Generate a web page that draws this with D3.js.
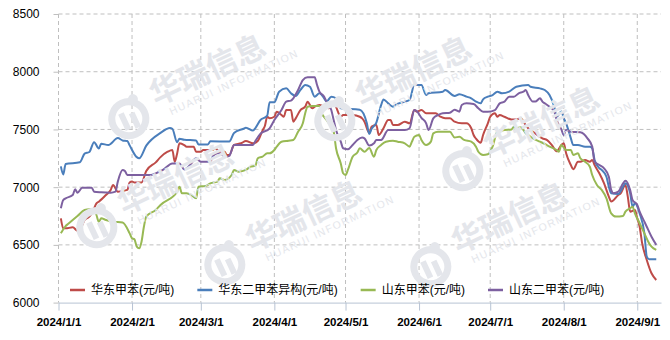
<!DOCTYPE html>
<html>
<head>
<meta charset="utf-8">
<script src="https://cdn.jsdelivr.net/npm/d3@7"></script>
<style>
    body { margin: 0; background: #fff; }
    svg { display: block; font-family: "Liberation Sans", Arial, "Noto Sans CJK SC", sans-serif; }
</style>
</head>
<body>
<div id="chart"></div>
<script>
// series names (legend)
var seriesNames = ["华东甲苯(元/吨)", "华东二甲苯异构(元/吨)", "山东甲苯(元/吨)", "山东二甲苯(元/吨)"];
var yTicks = [6000, 6500, 7000, 7500, 8000, 8500];
var xTickLabels = ["2024/1/1", "2024/2/1", "2024/3/1", "2024/4/1", "2024/5/1", "2024/6/1", "2024/7/1", "2024/8/1", "2024/9/1"];

// 华东甲苯
var eastToluene = [
    ["2024-01-02", 6730], ["2024-01-03", 6643], ["2024-01-04", 6643], ["2024-01-07", 6652], ["2024-01-09", 6623],
    ["2024-01-10", 6623], ["2024-01-11", 6672], ["2024-01-12", 6716], ["2024-01-14", 6745], ["2024-01-15", 6773],
    ["2024-01-16", 6817], ["2024-01-17", 6860], ["2024-01-18", 6874], ["2024-01-21", 6932], ["2024-01-23", 6976],
    ["2024-01-24", 7019], ["2024-01-26", 6961], ["2024-01-30", 6976], ["2024-01-31", 7040], ["2024-02-01", 7050],
    ["2024-02-02", 7040], ["2024-02-05", 7040], ["2024-02-07", 7140], ["2024-02-11", 7215], ["2024-02-13", 7260],
    ["2024-02-16", 7307], ["2024-02-18", 7322], ["2024-02-19", 7220], ["2024-02-20", 7290], ["2024-02-21", 7380],
    ["2024-02-23", 7365], ["2024-02-24", 7350], ["2024-02-27", 7350], ["2024-02-28", 7307], ["2024-03-01", 7307],
    ["2024-03-02", 7322], ["2024-03-06", 7322], ["2024-03-07", 7337], ["2024-03-09", 7307], ["2024-03-11", 7307],
    ["2024-03-12", 7279], ["2024-03-13", 7279], ["2024-03-15", 7365], ["2024-03-18", 7380], ["2024-03-20", 7400],
    ["2024-03-23", 7380], ["2024-03-25", 7400], ["2024-03-26", 7440], ["2024-03-27", 7490], ["2024-03-28", 7530],
    ["2024-03-29", 7610], ["2024-03-30", 7596], ["2024-04-01", 7610], ["2024-04-02", 7654], ["2024-04-04", 7625],
    ["2024-04-05", 7610], ["2024-04-06", 7668], ["2024-04-08", 7668], ["2024-04-09", 7567], ["2024-04-10", 7596],
    ["2024-04-12", 7668], ["2024-04-14", 7697], ["2024-04-15", 7740], ["2024-04-17", 7683], ["2024-04-18", 7697],
    ["2024-04-20", 7712], ["2024-04-22", 7697], ["2024-04-24", 7683], ["2024-04-26", 7740], ["2024-04-27", 7697],
    ["2024-04-29", 7610], ["2024-04-30", 7625], ["2024-05-04", 7625], ["2024-05-07", 7610], ["2024-05-08", 7596],
    ["2024-05-09", 7567], ["2024-05-11", 7470], ["2024-05-12", 7524], ["2024-05-14", 7538], ["2024-05-15", 7452],
    ["2024-05-17", 7510], ["2024-05-19", 7582], ["2024-05-20", 7582], ["2024-05-21", 7538], ["2024-05-23", 7538],
    ["2024-05-26", 7567], ["2024-05-28", 7553], ["2024-05-30", 7668], ["2024-05-31", 7654], ["2024-06-02", 7668],
    ["2024-06-04", 7640], ["2024-06-08", 7640], ["2024-06-10", 7610], ["2024-06-12", 7596], ["2024-06-14", 7596],
    ["2024-06-16", 7567], ["2024-06-19", 7553], ["2024-06-21", 7553], ["2024-06-23", 7510], ["2024-06-24", 7452],
    ["2024-06-25", 7420], ["2024-06-27", 7385], ["2024-06-28", 7452], ["2024-06-30", 7553], ["2024-07-01", 7610],
    ["2024-07-03", 7640], ["2024-07-04", 7610], ["2024-07-05", 7625], ["2024-07-07", 7610], ["2024-07-10", 7587],
    ["2024-07-12", 7587], ["2024-07-14", 7596], ["2024-07-15", 7567], ["2024-07-17", 7510], ["2024-07-18", 7495],
    ["2024-07-20", 7466], ["2024-07-23", 7423], ["2024-07-25", 7408], ["2024-07-27", 7365], ["2024-07-29", 7310],
    ["2024-07-31", 7365], ["2024-08-01", 7380], ["2024-08-02", 7293], ["2024-08-04", 7192], ["2024-08-05", 7155],
    ["2024-08-07", 7220], ["2024-08-08", 7220], ["2024-08-10", 7236], ["2024-08-12", 7220], ["2024-08-13", 7236],
    ["2024-08-14", 7192], ["2024-08-16", 7120], ["2024-08-18", 7033], ["2024-08-20", 6918], ["2024-08-21", 6875],
    ["2024-08-24", 6932], ["2024-08-25", 6947], ["2024-08-27", 7019], ["2024-08-28", 6918], ["2024-08-29", 6788],
    ["2024-08-31", 6802], ["2024-09-01", 6730], ["2024-09-02", 6657], ["2024-09-03", 6520], ["2024-09-05", 6369],
    ["2024-09-07", 6254], ["2024-09-09", 6196]
];

// 华东二甲苯异构
var eastXylene = [
    ["2024-01-02", 7180], ["2024-01-03", 7110], ["2024-01-04", 7200], ["2024-01-10", 7215], ["2024-01-12", 7290],
    ["2024-01-14", 7305], ["2024-01-16", 7390], ["2024-01-18", 7335], ["2024-01-19", 7376], ["2024-01-22", 7365],
    ["2024-01-26", 7425], ["2024-01-28", 7405], ["2024-01-30", 7400], ["2024-01-31", 7362], ["2024-02-03", 7260],
    ["2024-02-04", 7250], ["2024-02-07", 7360], ["2024-02-13", 7470], ["2024-02-17", 7512], ["2024-02-18", 7506],
    ["2024-02-20", 7390], ["2024-02-21", 7420], ["2024-02-23", 7410], ["2024-02-28", 7405], ["2024-02-29", 7370],
    ["2024-03-04", 7370], ["2024-03-05", 7397], ["2024-03-13", 7395], ["2024-03-15", 7470], ["2024-03-19", 7506],
    ["2024-03-20", 7515], ["2024-03-23", 7490], ["2024-03-24", 7512], ["2024-03-26", 7578], ["2024-03-29", 7620],
    ["2024-03-30", 7735], ["2024-04-01", 7735], ["2024-04-03", 7827], ["2024-04-06", 7856], ["2024-04-08", 7813],
    ["2024-04-10", 7790], ["2024-04-12", 7842], ["2024-04-14", 7885], ["2024-04-16", 7870], ["2024-04-18", 7784],
    ["2024-04-20", 7813], ["2024-04-22", 7770], ["2024-04-23", 7741], ["2024-04-25", 7784], ["2024-04-27", 7770],
    ["2024-04-29", 7683], ["2024-05-07", 7670], ["2024-05-10", 7553], ["2024-05-11", 7460], ["2024-05-12", 7505],
    ["2024-05-14", 7560], ["2024-05-16", 7710], ["2024-05-17", 7760], ["2024-05-19", 7726], ["2024-05-21", 7697],
    ["2024-05-22", 7712], ["2024-05-26", 7741], ["2024-05-28", 7755], ["2024-05-30", 7885], ["2024-06-02", 7885],
    ["2024-06-04", 7798], ["2024-06-05", 7813], ["2024-06-11", 7827], ["2024-06-12", 7842], ["2024-06-16", 7790],
    ["2024-06-18", 7805], ["2024-06-21", 7784], ["2024-06-23", 7770], ["2024-06-25", 7741], ["2024-06-27", 7726],
    ["2024-06-28", 7761], ["2024-06-30", 7784], ["2024-07-02", 7798], ["2024-07-04", 7827], ["2024-07-06", 7813],
    ["2024-07-09", 7827], ["2024-07-12", 7870], ["2024-07-17", 7885], ["2024-07-18", 7870], ["2024-07-22", 7856],
    ["2024-07-24", 7842], ["2024-07-26", 7798], ["2024-07-28", 7697], ["2024-07-29", 7610], ["2024-07-31", 7655],
    ["2024-08-01", 7597], ["2024-08-02", 7553], ["2024-08-04", 7423], ["2024-08-05", 7365], ["2024-08-07", 7365],
    ["2024-08-10", 7350], ["2024-08-12", 7350], ["2024-08-13", 7337], ["2024-08-14", 7236], ["2024-08-16", 7164],
    ["2024-08-17", 7149], ["2024-08-19", 7090], ["2024-08-20", 7004], ["2024-08-21", 6947], ["2024-08-24", 6941],
    ["2024-08-26", 7004], ["2024-08-27", 7033], ["2024-08-29", 6947], ["2024-08-30", 6831], ["2024-08-31", 6860],
    ["2024-09-02", 6773], ["2024-09-04", 6600], ["2024-09-05", 6398], ["2024-09-06", 6375], ["2024-09-09", 6375]
];

// 山东甲苯
var shandongToluene = [
    ["2024-01-02", 6600], ["2024-01-04", 6663], ["2024-01-05", 6681], ["2024-01-07", 6716], ["2024-01-09", 6750],
    ["2024-01-12", 6802], ["2024-01-14", 6808], ["2024-01-16", 6808], ["2024-01-17", 6759], ["2024-01-18", 6700],
    ["2024-01-19", 6730], ["2024-01-21", 6716], ["2024-01-24", 6701], ["2024-01-28", 6693], ["2024-01-31", 6600],
    ["2024-02-01", 6557], ["2024-02-02", 6548], ["2024-02-03", 6485], ["2024-02-04", 6470], ["2024-02-05", 6527],
    ["2024-02-06", 6657], ["2024-02-07", 6745], ["2024-02-11", 6802], ["2024-02-13", 6846], ["2024-02-20", 6961],
    ["2024-02-21", 7004], ["2024-02-22", 6947], ["2024-02-24", 6947], ["2024-02-26", 6932], ["2024-02-28", 6903],
    ["2024-02-29", 7004], ["2024-03-03", 7010], ["2024-03-05", 7033], ["2024-03-08", 7048], ["2024-03-09", 7077],
    ["2024-03-11", 7062], ["2024-03-14", 7105], ["2024-03-15", 7149], ["2024-03-17", 7134], ["2024-03-20", 7149],
    ["2024-03-22", 7178], ["2024-03-24", 7185], ["2024-03-25", 7250], ["2024-03-27", 7264], ["2024-03-29", 7293],
    ["2024-03-30", 7293], ["2024-04-01", 7322], ["2024-04-02", 7351], ["2024-04-04", 7394], ["2024-04-07", 7403],
    ["2024-04-09", 7409], ["2024-04-11", 7480], ["2024-04-13", 7553], ["2024-04-14", 7640], ["2024-04-15", 7697],
    ["2024-04-17", 7703], ["2024-04-20", 7703], ["2024-04-21", 7640], ["2024-04-23", 7582], ["2024-04-25", 7524],
    ["2024-04-26", 7480], ["2024-04-27", 7337], ["2024-04-29", 7206], ["2024-04-30", 7120], ["2024-05-01", 7105],
    ["2024-05-02", 7149], ["2024-05-04", 7264], ["2024-05-06", 7300], ["2024-05-07", 7337], ["2024-05-09", 7307],
    ["2024-05-11", 7340], ["2024-05-13", 7264], ["2024-05-14", 7322], ["2024-05-16", 7365], ["2024-05-18", 7394],
    ["2024-05-21", 7403], ["2024-05-23", 7394], ["2024-05-26", 7380], ["2024-05-28", 7351], ["2024-05-29", 7394],
    ["2024-05-30", 7437], ["2024-06-01", 7452], ["2024-06-02", 7409], ["2024-06-04", 7365], ["2024-06-06", 7394],
    ["2024-06-07", 7466], ["2024-06-09", 7480], ["2024-06-14", 7480], ["2024-06-16", 7430], ["2024-06-18", 7437],
    ["2024-06-20", 7409], ["2024-06-23", 7394], ["2024-06-25", 7351], ["2024-06-26", 7307], ["2024-06-28", 7279],
    ["2024-06-30", 7285], ["2024-07-02", 7351], ["2024-07-04", 7480], ["2024-07-07", 7495], ["2024-07-10", 7500],
    ["2024-07-11", 7524], ["2024-07-12", 7510], ["2024-07-14", 7518], ["2024-07-15", 7495], ["2024-07-16", 7466],
    ["2024-07-17", 7452], ["2024-07-19", 7423], ["2024-07-22", 7394], ["2024-07-24", 7374], ["2024-07-26", 7351],
    ["2024-07-29", 7322], ["2024-07-30", 7307], ["2024-07-31", 7365], ["2024-08-02", 7322], ["2024-08-04", 7322],
    ["2024-08-05", 7279], ["2024-08-07", 7293], ["2024-08-08", 7250], ["2024-08-10", 7220], ["2024-08-12", 7177],
    ["2024-08-13", 7105], ["2024-08-15", 7019], ["2024-08-17", 6976], ["2024-08-19", 6903], ["2024-08-21", 6773],
    ["2024-08-23", 6745], ["2024-08-26", 6750], ["2024-08-27", 6788], ["2024-08-29", 6817], ["2024-08-30", 6831],
    ["2024-08-31", 6773], ["2024-09-02", 6687], ["2024-09-04", 6600], ["2024-09-06", 6513], ["2024-09-07", 6485],
    ["2024-09-09", 6456]
];

// 山东二甲苯
var shandongXylene = [
    ["2024-01-02", 6817], ["2024-01-03", 6889], ["2024-01-04", 6903], ["2024-01-07", 6932], ["2024-01-08", 6981],
    ["2024-01-09", 6952], ["2024-01-11", 6995], ["2024-01-15", 6995], ["2024-01-16", 6961], ["2024-01-19", 6955],
    ["2024-01-23", 6952], ["2024-01-25", 6961], ["2024-01-26", 7048], ["2024-01-28", 7149], ["2024-01-29", 7140],
    ["2024-01-30", 7105], ["2024-02-09", 7105], ["2024-02-11", 7120], ["2024-02-14", 7149], ["2024-02-18", 7206],
    ["2024-02-21", 7206], ["2024-02-23", 7154], ["2024-02-26", 7206], ["2024-02-27", 7235], ["2024-02-28", 7250],
    ["2024-03-01", 7220], ["2024-03-05", 7220], ["2024-03-06", 7264], ["2024-03-08", 7293], ["2024-03-10", 7279],
    ["2024-03-12", 7264], ["2024-03-13", 7270], ["2024-03-15", 7365], ["2024-03-23", 7365], ["2024-03-24", 7400],
    ["2024-03-26", 7460], ["2024-03-30", 7510], ["2024-04-01", 7582], ["2024-04-04", 7668], ["2024-04-06", 7741],
    ["2024-04-08", 7750], ["2024-04-09", 7770], ["2024-04-11", 7842], ["2024-04-13", 7928], ["2024-04-15", 7952],
    ["2024-04-18", 7952], ["2024-04-19", 7885], ["2024-04-20", 7827], ["2024-04-22", 7784], ["2024-04-23", 7741],
    ["2024-04-25", 7668], ["2024-04-26", 7582], ["2024-04-27", 7495], ["2024-04-29", 7394], ["2024-04-30", 7337],
    ["2024-05-02", 7328], ["2024-05-04", 7365], ["2024-05-06", 7409], ["2024-05-08", 7430], ["2024-05-09", 7423],
    ["2024-05-11", 7360], ["2024-05-13", 7380], ["2024-05-14", 7409], ["2024-05-16", 7409], ["2024-05-19", 7495],
    ["2024-05-26", 7495], ["2024-05-28", 7510], ["2024-05-30", 7668], ["2024-05-31", 7660], ["2024-06-02", 7600],
    ["2024-06-04", 7553], ["2024-06-05", 7495], ["2024-06-07", 7596], ["2024-06-09", 7625], ["2024-06-11", 7640],
    ["2024-06-14", 7645], ["2024-06-16", 7670], ["2024-06-18", 7654], ["2024-06-19", 7712], ["2024-06-21", 7726],
    ["2024-06-24", 7720], ["2024-06-26", 7683], ["2024-06-28", 7654], ["2024-06-30", 7654], ["2024-07-03", 7668],
    ["2024-07-05", 7726], ["2024-07-07", 7741], ["2024-07-09", 7784], ["2024-07-11", 7784], ["2024-07-13", 7813],
    ["2024-07-15", 7827], ["2024-07-16", 7842], ["2024-07-17", 7798], ["2024-07-19", 7741], ["2024-07-20", 7741],
    ["2024-07-22", 7770], ["2024-07-23", 7741], ["2024-07-24", 7726], ["2024-07-26", 7697], ["2024-07-28", 7654],
    ["2024-07-29", 7582], ["2024-07-31", 7500], ["2024-08-01", 7452], ["2024-08-02", 7495], ["2024-08-04", 7480],
    ["2024-08-08", 7475], ["2024-08-11", 7423], ["2024-08-13", 7351], ["2024-08-14", 7220], ["2024-08-16", 7192],
    ["2024-08-18", 7163], ["2024-08-20", 7091], ["2024-08-21", 6976], ["2024-08-22", 6947], ["2024-08-24", 6961],
    ["2024-08-26", 7033], ["2024-08-27", 7056], ["2024-08-29", 6976], ["2024-08-30", 6889], ["2024-09-01", 6846],
    ["2024-09-02", 6788], ["2024-09-04", 6701], ["2024-09-05", 6657], ["2024-09-07", 6571], ["2024-09-09", 6500]
];

var seriesColors = ["#BE4B48", "#4A7EBB", "#98B954", "#7D60A0"];

var svgWidth = 670;
var svgHeight = 340;

var margin = {
    top: 14,
    right: 9,
    bottom: 37.4,
    left: 58.5
};

var width = svgWidth - margin.left - margin.right;
var height = svgHeight - margin.top - margin.bottom;

var svg = d3.select("#chart")
    .append("svg")
    .attr("width", svgWidth)
    .attr("height", svgHeight);

var chartGroup = svg.append("g")
    .attr("transform", `translate(${margin.left}, ${margin.top})`);

var parseDate = d3.timeParse("%Y-%m-%d");

var xScale = d3.scaleTime()
    .domain([parseDate("2024-01-01"), parseDate("2024-09-11")])
    .range([0, width]);

var yScale = d3.scaleLinear()
    .domain([6000, 8500])
    .range([height, 0]);

var tickDates = xTickLabels.map(function (s) {
    var p = s.split("/");
    return new Date(+p[0], +p[1] - 1, +p[2]);
});

// watermarks
var wmColor = "#e4e6eb";
var wmGroup = svg.append("g").attr("fill", wmColor);

function watermark(x, y) {
    var g = wmGroup.append("g")
        .attr("transform", `translate(${x}, ${y}) rotate(-25)`);
    g.append("circle")
        .attr("cx", -30)
        .attr("cy", 0)
        .attr("r", 17)
        .attr("fill", "none")
        .attr("stroke", wmColor)
        .attr("stroke-width", 7);
    g.append("circle")
        .attr("cx", -18)
        .attr("cy", -16)
        .attr("r", 5);
    g.append("rect").attr("x", -38).attr("y", -8).attr("width", 6).attr("height", 18);
    g.append("rect").attr("x", -28).attr("y", -4).attr("width", 6).attr("height", 16);
    g.append("text")
        .attr("x", 0)
        .attr("y", 0)
        .attr("font-family", "Noto Sans CJK SC")
        .attr("font-weight", "bold")
        .attr("font-size", 31)
        .text("华瑞信息");
    g.append("text")
        .attr("x", 10)
        .attr("y", 15)
        .attr("font-size", 10.5)
        .attr("letter-spacing", 1.4)
        .text("HUARUI INFORMATION");
}

[[156, 106], [362, 108], [490, 158], [124, 215], [252, 252], [458, 254]].forEach(function (p) {
    watermark(p[0], p[1]);
});

// grid lines
chartGroup.append("g")
    .selectAll("line")
    .data(yTicks.slice(1))
    .enter()
    .append("line")
    .attr("x1", 0)
    .attr("x2", width)
    .attr("y1", d => yScale(d))
    .attr("y2", d => yScale(d))
    .attr("stroke", "#bfbfbf")
    .attr("stroke-dasharray", "4,3");

chartGroup.append("g")
    .selectAll("line")
    .data(tickDates)
    .enter()
    .append("line")
    .attr("x1", d => xScale(d))
    .attr("x2", d => xScale(d))
    .attr("y1", 0)
    .attr("y2", height)
    .attr("stroke", "#bfbfbf")
    .attr("stroke-dasharray", "4,3");

// y axis
var leftAxis = d3.axisLeft(yScale)
    .tickValues(yTicks)
    .tickFormat(d3.format("d"))
    .tickSize(5)
    .tickPadding(14);

var yAxis = chartGroup.append("g").call(leftAxis);
yAxis.select(".domain").remove();
yAxis.selectAll("line").attr("stroke", "#bfbfbf");
yAxis.selectAll("text")
    .attr("font-size", 12)
    .attr("font-family", "Liberation Sans, Arial, sans-serif")
    .attr("fill", "#000");

// x axis
var bottomAxis = d3.axisBottom(xScale)
    .tickValues(tickDates)
    .tickFormat((d, i) => xTickLabels[i])
    .tickSize(8)
    .tickSizeOuter(0)
    .tickPadding(7);

var xAxis = chartGroup.append("g")
    .attr("transform", `translate(0, ${height})`)
    .call(bottomAxis);
xAxis.select(".domain").attr("stroke", "#b7c3d3");
xAxis.selectAll("line").attr("stroke", "#b7c3d3");
xAxis.selectAll("text")
    .attr("font-size", 11.5)
    .attr("font-weight", "bold")
    .attr("font-family", "Liberation Sans, Arial, sans-serif")
    .attr("fill", "#000");

// lines
var allSeries = [eastToluene, eastXylene, shandongToluene, shandongXylene];

var line = d3.line()
    .x(d => xScale(parseDate(d[0])))
    .y(d => yScale(d[1]))
    .curve(d3.curveMonotoneX);

chartGroup.selectAll(".series")
    .data(allSeries)
    .enter()
    .append("path")
    .attr("class", "series")
    .attr("d", d => line(d))
    .attr("fill", "none")
    .attr("stroke", (d, i) => seriesColors[i])
    .attr("stroke-width", 2)
    .attr("stroke-linejoin", "round");

// legend
var legend = svg.append("g").attr("transform", "translate(70, 290)");
var legendX = 0;
seriesNames.forEach(function (name, i) {
    var item = legend.append("g").attr("transform", `translate(${legendX}, 0)`);
    item.append("line")
        .attr("x1", 0)
        .attr("x2", 15)
        .attr("y1", 0)
        .attr("y2", 0)
        .attr("stroke", seriesColors[i])
        .attr("stroke-width", 2.5);
    var t = item.append("text")
        .attr("x", 21)
        .attr("y", 0)
        .attr("dy", "0.36em")
        .attr("font-size", 12)
        .attr("fill", "#000")
        .text(name);
    legendX += 21 + t.node().getComputedTextLength() + 23;
});
</script>
</body>
</html>
